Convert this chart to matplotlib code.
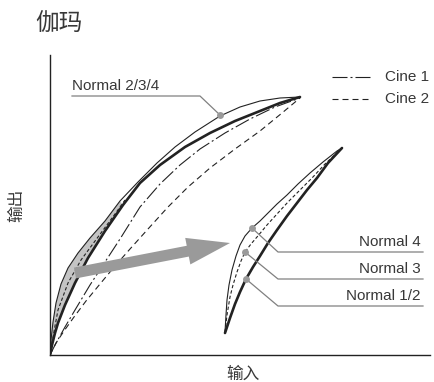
import numpy as np
import matplotlib
matplotlib.use('Agg')
import matplotlib.pyplot as plt
from matplotlib.patches import FancyArrow

plt.rcParams['font.family'] = ['Liberation Sans', 'Noto Sans CJK SC', 'DejaVu Sans']

# curve points (input, output), origin at the axis corner
normal4_x = [0, 1, 3, 6, 11, 18, 28, 40, 55, 70, 88, 107, 125, 145, 170, 190, 210, 230, 250]
normal4_y = [0, 15, 33, 52, 71, 87, 102, 117, 134, 154, 173, 192, 208, 223, 239, 248, 254, 257, 258]

normal1_x = [0, 2, 5, 8, 15, 25, 38, 55, 73, 90, 110, 135, 160, 185, 210, 230, 250]
normal1_y = [0, 10, 22, 32, 50, 72, 97, 124, 150, 172, 190, 208, 222, 234, 244, 252, 258]

normal3_x = [0, 2, 5, 8, 18, 31, 48, 65, 75]
normal3_y = [0, 12, 29, 45, 72, 95, 118, 141, 155]

cine1_x = [0, 5, 15, 25, 40, 55, 70, 90, 110, 130, 150, 175, 200, 225, 250]
cine1_y = [0, 10, 28, 45, 70, 93, 116, 148, 171, 190, 206, 222, 236, 248, 257]

cine2_x = [0, 6, 14, 24, 36, 50, 65, 80, 98, 118, 138, 160, 185, 210, 232, 250]
cine2_y = [0, 12, 24, 38, 54, 71, 89, 106, 126, 148, 168, 187, 206, 224, 242, 257]

# enlarged view of the shadow end
zoom12_x = [175, 180, 185, 190, 196, 203, 210, 218, 227, 237, 247, 257, 267, 278, 292]
zoom12_y = [22, 37, 51, 63, 76, 88, 99, 112, 125, 139, 152, 165, 177, 192, 207]
zoom4_x = [175, 176, 177, 179, 182, 186, 190, 195, 202, 210, 217, 227, 237, 248, 260, 273, 287, 292]
zoom4_y = [23, 40, 55, 70, 85, 99, 110, 119, 127, 134, 141, 151, 160, 171, 182, 193, 204, 207]
zoom3_x = [175, 177, 180, 183, 187, 191, 195, 201, 207, 217, 227, 238, 250, 262, 275, 292]
zoom3_y = [23, 40, 58, 70, 83, 94, 103, 111, 118, 130, 141, 153, 165, 177, 191, 207]

# label name, marker point, elbow point, end of leader
labels = ['Normal 2/3/4', 'Normal 4', 'Normal 3', 'Normal 1/2']
marker_pts = [(170, 240), (202, 127), (195, 103), (196, 76)]
elbow_pts = [(150, 259), (228, 103), (228, 76), (228, 49)]
end_pts = [(22, 259), (373, 103), (373, 76), (373, 49)]

ink = '#222222'
txt = '#383838'
grey = '#9a9a9a'

fig = plt.figure(figsize=(4.34, 3.82), dpi=100)
ax = fig.add_axes([50 / 434, 27 / 382, 380 / 434, 300 / 382])
ax.set_xlim(0, 380)
ax.set_ylim(0, 300)
for s in ['top', 'right']:
    ax.spines[s].set_visible(False)
for s in ['left', 'bottom']:
    ax.spines[s].set_color(ink)
    ax.spines[s].set_linewidth(1.0)
ax.set_xticks([])
ax.set_yticks([])

# grey band between Normal 4 and Normal 1/2 near the shadows
n4 = np.column_stack([normal4_x, normal4_y])[:10]
n1 = np.column_stack([normal1_x, normal1_y])[:9]
band = np.vstack([n4, n1[::-1]])
ax.fill(band[:, 0], band[:, 1], color='#c4c4c4', lw=0, zorder=1)

ax.plot(cine2_x, cine2_y, color=ink, lw=0.8, dashes=(5.4, 3.6), zorder=2)
ax.plot(cine1_x, cine1_y, color=ink, lw=0.8, dashes=(13.5, 2.7, 1.8, 2.7), zorder=2)
ax.plot(normal3_x, normal3_y, color=ink, lw=0.8, dashes=(3, 2), zorder=3)
ax.plot(normal4_x, normal4_y, color=ink, lw=0.8, zorder=3)
ax.plot(normal1_x, normal1_y, color=ink, lw=1.9, solid_capstyle='round', zorder=3)

ax.plot(zoom3_x, zoom3_y, color=ink, lw=0.8, dashes=(3, 2), zorder=3)
ax.plot(zoom4_x, zoom4_y, color=ink, lw=0.8, zorder=3)
ax.plot(zoom12_x, zoom12_y, color=ink, lw=1.9, solid_capstyle='round', zorder=3)

ax.add_patch(FancyArrow(25, 82, 155, 30, width=11, head_width=27, head_length=43,
                        length_includes_head=True, color=grey, lw=0, zorder=4))

# leaders and labels
for i, name in enumerate(labels):
    mx, my = marker_pts[i]
    ex, ey = elbow_pts[i]
    tx, ty = end_pts[i]
    ax.plot([mx, ex, tx], [my, ey, ty], color='#808080', lw=0.9, zorder=5)
    ax.plot(mx, my, 'o', ms=5, color=grey, mec='none', zorder=6)
    if tx < ex:
        ax.text(tx, ty + 3, name, ha='left', va='bottom', fontsize=11, color=txt)
    else:
        ax.text(tx - 2, ty + 3, name, ha='right', va='bottom', fontsize=11, color=txt)

# legend
ax.plot([282, 322], [278, 278], color=ink, lw=0.8, dashes=(13.5, 2.7, 1.8, 2.7), clip_on=False)
ax.plot([282, 322], [256, 256], color=ink, lw=0.8, dashes=(5.4, 3.6), clip_on=False)
ax.text(335, 278, 'Cine 1', ha='left', va='center', fontsize=11, color=txt)
ax.text(335, 256, 'Cine 2', ha='left', va='center', fontsize=11, color=txt)

cjk = ['Noto Sans CJK SC', 'DejaVu Sans']
fig.text(35 / 434, 1 - 13 / 382, '伽玛', ha='left', va='top', fontsize=17, color=txt, family=cjk)
fig.text(17 / 434, 1 - 205 / 382, '输出', ha='center', va='center', rotation=90,
         fontsize=12, color=txt, family=cjk)
fig.text(243 / 434, 1 - 374 / 382, '输入', ha='center', va='center', fontsize=12, color=txt, family=cjk)

fig.savefig('out.png', dpi=100)
